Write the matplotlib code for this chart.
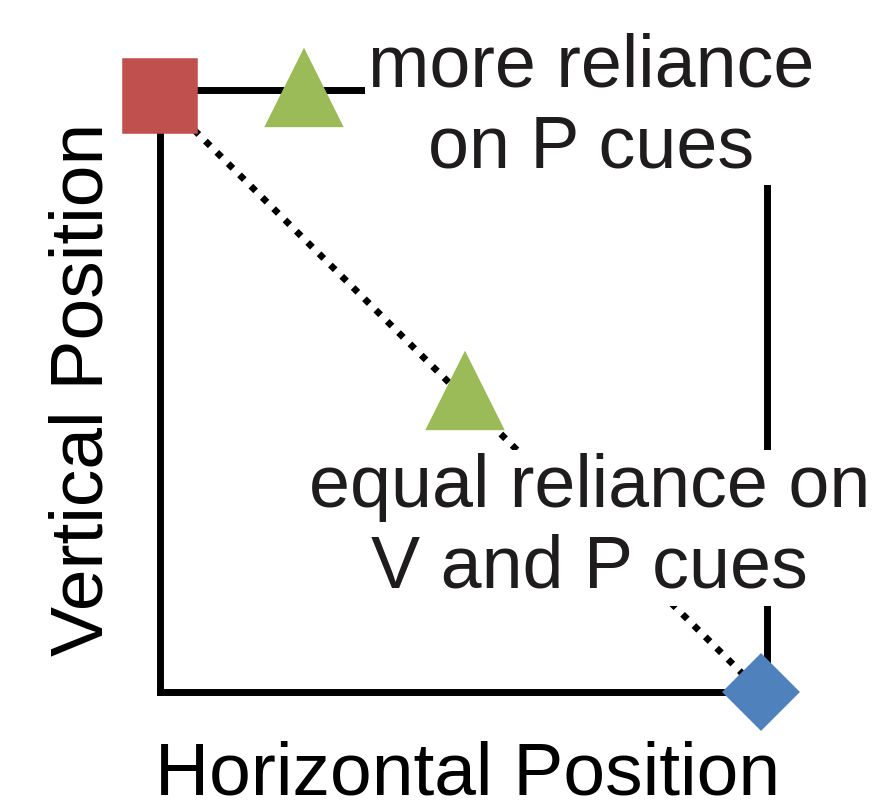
import matplotlib
matplotlib.use("Agg")
import matplotlib.pyplot as plt

plt.rcParams['font.family'] = ['Liberation Sans', 'DejaVu Sans']

# Data (axes units: 0..1 across the frame)
square_xy = (0.0, 0.99)        # red square: top-left corner
diamond_xy = (0.99, 0.0)       # blue diamond: bottom-right corner
triangles_x = [0.237, 0.502]   # green triangles
triangles_y = [1.0, 0.497]
diag_x = [square_xy[0], diamond_xy[0]]
diag_y = [square_xy[1], diamond_xy[1]]

labels = ["more reliance\non P cues", "equal reliance on\nV and P cues"]
label_x = [0.71, 0.708]
label_y = [0.872, 0.173]       # baseline of the last line
xlabel = "Horizontal Position"
ylabel = "Vertical Position"

RED = "#C0504D"
GREEN = "#9BBB59"
BLUE = "#4F81BD"
TXT = "#1f1c1d"

fig = plt.figure(figsize=(8.76, 8.07), dpi=100)
ax = fig.add_axes([160/876, 1 - 692/807, 607/876, 602/807])
ax.set_xlim(0, 1)
ax.set_ylim(0, 1)
ax.set_xticks([])
ax.set_yticks([])
for s in ax.spines.values():
    s.set_linewidth(5)
    s.set_color("black")
    s.set_zorder(1)
    s.set_capstyle("projecting")

# dotted diagonal
ax.plot(diag_x, diag_y, color="black", lw=4.8, linestyle=(0, (1.0, 1.4)),
        dash_capstyle="butt", clip_on=False, zorder=2)

# annotation texts with white backgrounds
for t, x, y in zip(labels, label_x, label_y):
    ax.text(x, y, t, transform=ax.transAxes, ha="center", va="baseline",
            fontsize=53, color=TXT, linespacing=1.22, multialignment="center",
            bbox=dict(boxstyle="square,pad=0.04", fc="white", ec="none"),
            zorder=3)

# markers
ax.plot([square_xy[0]], [square_xy[1]], marker="s", ms=50, color=RED,
        mec=RED, mew=4, mfc=RED, linestyle="none", clip_on=False, zorder=5)
ax.plot(triangles_x, triangles_y, marker="^", ms=48, color=GREEN, mec=GREEN,
        mew=6, linestyle="none", clip_on=False, zorder=5)
ax.plot([diamond_xy[0]], [diamond_xy[1]], marker="D", ms=36, color=BLUE,
        mec=BLUE, mew=4, linestyle="none", clip_on=False, zorder=5)
for l in ax.lines[1:]:
    l.set_solid_joinstyle("round")

ax.text(0.506, -0.171, xlabel, transform=ax.transAxes, ha="center",
        va="baseline", fontsize=54, color="black")
ax.text(-0.094, 0.502, ylabel, transform=ax.transAxes, ha="center",
        va="baseline", rotation=90, rotation_mode="anchor", fontsize=54,
        color="black")

fig.savefig("out.png", dpi=100, facecolor="white")
